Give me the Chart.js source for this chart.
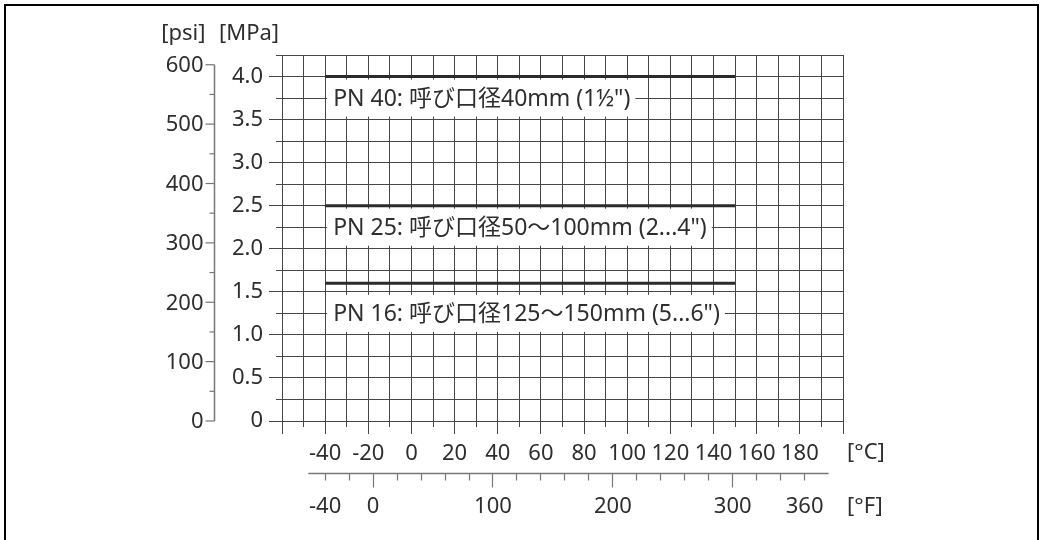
<!DOCTYPE html>
<html>
<head>
<meta charset="utf-8">
<script src="https://cdn.jsdelivr.net/npm/chart.js@4.4.1/dist/chart.umd.min.js"></script>
<style>
  html, body { margin: 0; padding: 0; background: #fff; }
  canvas { display: block; }
</style>
</head>
<body>
<canvas id="chart" width="1044" height="540"></canvas>
<script>
// Pressure rating (PN) by nominal size over the permitted process temperature range
const seriesNames = ['PN 40', 'PN 25', 'PN 16'];
const seriesSizes = ['呼び口径40mm (1½")', '呼び口径50～100mm (2...4")', '呼び口径125～150mm (5...6")'];
const pressureMPa = [4.0, 2.5, 1.6];
const tempRangeC = [-40, 150];

// Tick labels
const celsiusTicks = [-40, -20, 0, 20, 40, 60, 80, 100, 120, 140, 160, 180];
const fahrenheitTicks = [-40, 0, 100, 200, 300, 360];
const mpaTicks = [0, 0.5, 1.0, 1.5, 2.0, 2.5, 3.0, 3.5, 4.0];
const psiTicks = [0, 100, 200, 300, 400, 500, 600];

// Layout and styling
const FONT = '"Noto Sans", "Noto Sans CJK JP", sans-serif';
const FONT_SIZE = 22;
const CAPTION_SIZE = 23;
const TEXT = '#2e2e2e';
const GRID = '#464646';
const AXIS = '#777777';
const LINE = '#2b2b2b';
const labelAnchorMPa = [3.75, 2.25, 1.25];   // vertical centre of each series caption
const C_RANGE = { min: -60, max: 200, step: 10, major: 20 };
const MPA_RANGE = { min: 0, max: 4.25, step: 0.25, major: 0.5 };
const PSI_MINOR = 50;
const F_STEP = 20;
const F_AXIS_SPAN = [-54, 380];
const PSI_PER_MPA = 145.0377;

const fToC = f => (f - 32) * 5 / 9;
const align = p => Math.round(p - 0.5) + 0.5;

function seg(ctx, x1, y1, x2, y2) {
  ctx.beginPath();
  ctx.moveTo(x1, y1);
  ctx.lineTo(x2, y2);
  ctx.stroke();
}

const decorations = {
  id: 'decorations',
  beforeDraw(chart) {
    const ctx = chart.ctx;
    ctx.save();
    ctx.fillStyle = '#ffffff';
    ctx.fillRect(0, 0, chart.width, chart.height);
    ctx.strokeStyle = '#000000';
    ctx.lineWidth = 2;
    ctx.strokeRect(5, 5, chart.width - 11, chart.height + 20);
    ctx.restore();
  },
  afterDatasetsDraw(chart) {
    // captions on a white ground, just below each rating line
    const { ctx, scales: { x, y } } = chart;
    ctx.save();
    ctx.font = CAPTION_SIZE + 'px ' + FONT;
    ctx.textBaseline = 'middle';
    ctx.textAlign = 'left';
    seriesNames.forEach((name, i) => {
      const text = name + ': ' + seriesSizes[i];
      const yc = y.getPixelForValue(labelAnchorMPa[i]);
      const bx = x.getPixelForValue(tempRangeC[0]) + 2;
      const w = ctx.measureText(text).width;
      ctx.fillStyle = '#ffffff';
      ctx.fillRect(bx, yc - 18.5, w + 11, 37);
      ctx.fillStyle = TEXT;
      ctx.fillText(text, bx + 6, yc + 1);
    });
    ctx.restore();
  },
  afterDraw(chart) {
    const { ctx, chartArea: a, scales: { x, y } } = chart;
    ctx.save();
    ctx.lineWidth = 1;
    ctx.strokeStyle = GRID;

    // MPa tick marks left of the grid
    for (let v = MPA_RANGE.min; v <= MPA_RANGE.max + 1e-9; v += MPA_RANGE.step) {
      const py = align(y.getPixelForValue(v));
      const major = Math.abs(v / MPA_RANGE.major - Math.round(v / MPA_RANGE.major)) < 1e-6;
      seg(ctx, a.left - (major ? 13 : 6), py, a.left, py);
    }
    // °C tick marks below the grid
    for (let c = C_RANGE.min; c <= C_RANGE.max; c += C_RANGE.step) {
      const px = align(x.getPixelForValue(c));
      const major = c % C_RANGE.major === 0;
      seg(ctx, px, a.bottom, px, a.bottom + (major ? 13 : 6));
    }

    ctx.font = FONT_SIZE + 'px ' + FONT;
    ctx.fillStyle = TEXT;

    // psi axis
    const psiX = a.left - 67.5;
    const psiPx = p => y.getPixelForValue(p / PSI_PER_MPA);
    const psiMax = psiTicks[psiTicks.length - 1];
    ctx.strokeStyle = AXIS;
    ctx.lineWidth = 1.5;
    seg(ctx, psiX, psiPx(0), psiX, psiPx(psiMax));
    ctx.lineWidth = 1.2;
    for (let p = 0; p <= psiMax; p += PSI_MINOR) {
      const py = psiPx(p);
      const major = psiTicks.includes(p);
      seg(ctx, psiX - (major ? 9 : 5), py, psiX, py);
    }
    ctx.textAlign = 'right';
    ctx.textBaseline = 'middle';
    psiTicks.forEach(p => ctx.fillText(String(p), psiX - 11, psiPx(p) + 1));

    // °F axis
    const fY = a.bottom + 52.5;
    const fPx = f => x.getPixelForValue(fToC(f));
    ctx.lineWidth = 1.5;
    seg(ctx, fPx(F_AXIS_SPAN[0]), fY, fPx(F_AXIS_SPAN[1]), fY);
    ctx.lineWidth = 1.2;
    const fFirst = fahrenheitTicks[0];
    const fLast = fahrenheitTicks[fahrenheitTicks.length - 1];
    for (let f = fFirst; f <= fLast; f += F_STEP) {
      const px = align(fPx(f));
      const major = f % 100 === 0;
      seg(ctx, px, fY, px, fY + (major ? 14 : 7));
    }
    ctx.textAlign = 'center';
    fahrenheitTicks.forEach(f => ctx.fillText(String(f), fPx(f), fY + 33));

    // unit captions
    ctx.textAlign = 'left';
    ctx.fillText('[°C]', a.right + 4, a.bottom + 32);
    ctx.fillText('[°F]', a.right + 4, fY + 33);
    ctx.textAlign = 'right';
    ctx.fillText('[psi]', psiX - 9, a.top - 21);
    ctx.textAlign = 'left';
    ctx.fillText('[MPa]', a.left - 63, a.top - 21);
    ctx.restore();
  }
};

const datasets = seriesNames.map((name, i) => ({
  label: name,
  data: tempRangeC.map(t => ({ x: t, y: pressureMPa[i] })),
  borderColor: LINE,
  borderWidth: 3,
  borderCapStyle: 'butt',
  pointRadius: 0,
  tension: 0,
  fill: false
}));

new Chart(document.getElementById('chart'), {
  type: 'line',
  data: { datasets },
  plugins: [decorations],
  options: {
    responsive: false,
    animation: false,
    devicePixelRatio: 1,
    layout: { padding: { top: 55, right: 201, left: 0, bottom: 0 } },
    plugins: { legend: { display: false }, tooltip: { enabled: false } },
    scales: {
      x: {
        type: 'linear',
        position: 'bottom',
        min: C_RANGE.min,
        max: C_RANGE.max,
        afterFit(s) { s.height = 119; },
        ticks: {
          stepSize: C_RANGE.step,
          autoSkip: false,
          maxRotation: 0,
          padding: 20,
          color: TEXT,
          font: { family: FONT, size: FONT_SIZE },
          callback: v => celsiusTicks.includes(v) ? String(v) : ''
        },
        grid: { color: GRID, lineWidth: 1, drawTicks: false },
        border: { display: false }
      },
      y: {
        type: 'linear',
        min: MPA_RANGE.min,
        max: MPA_RANGE.max,
        afterFit(s) { s.width = 282; },
        ticks: {
          stepSize: MPA_RANGE.step,
          autoSkip: false,
          padding: 19,
          color: TEXT,
          font: { family: FONT, size: FONT_SIZE },
          callback: v => mpaTicks.includes(v) ? (v === 0 ? '0' : v.toFixed(1)) : ''
        },
        grid: { color: GRID, lineWidth: 1, drawTicks: false },
        border: { display: false }
      }
    }
  }
});
</script>
</body>
</html>
